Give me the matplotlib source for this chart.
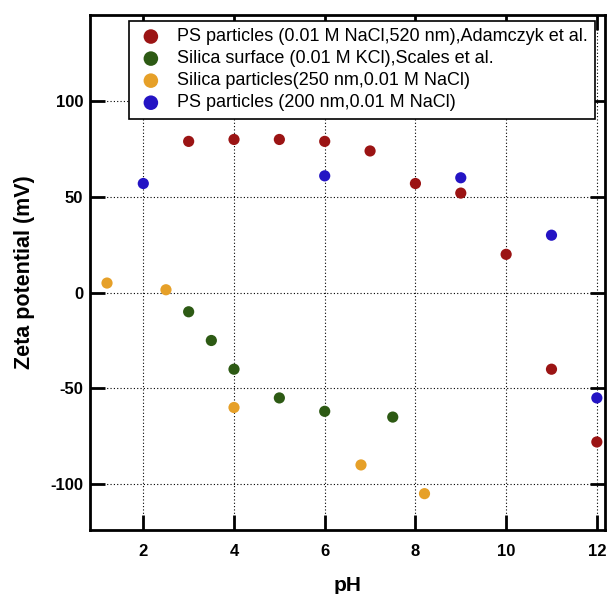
import matplotlib
matplotlib.use("Agg")
import matplotlib.pyplot as plt

plt.rcParams['font.family'] = ['Liberation Sans', 'DejaVu Sans']
plt.rcParams['axes.unicode_minus'] = False

red_x = [3, 4, 5, 6, 7, 8, 9, 10, 11, 12]
red_y = [79, 80, 80, 79, 74, 57, 52, 20, -40, -78]
green_x = [3, 3.5, 4, 5, 6, 7.5]
green_y = [-10, -25, -40, -55, -62, -65]
orange_x = [1.2, 2.5, 4, 6.8, 8.2]
orange_y = [5, 1.5, -60, -90, -105]
blue_x = [2, 6, 9, 11, 12]
blue_y = [57, 61, 60, 30, -55]

labels = ["PS particles (0.01 M NaCl,520 nm),Adamczyk et al.",
          "Silica surface (0.01 M KCl),Scales et al.",
          "Silica particles(250 nm,0.01 M NaCl)",
          "PS particles (200 nm,0.01 M NaCl)"]
colors = ["#9b1414", "#2d5a14", "#e6a028", "#2414c4"]

fig = plt.figure(figsize=(6.11, 5.94), dpi=100)
ax = fig.add_axes([0.1473, 0.1077, 0.8429, 0.867])

for (xs, ys), lab, c in zip([(red_x, red_y), (green_x, green_y), (orange_x, orange_y), (blue_x, blue_y)], labels, colors):
    ax.scatter(xs, ys, s=65, color=c, label=lab, edgecolors='none', zorder=3)

ax.set_xlim(0.825, 12.18)
ax.set_ylim(-124, 145)
ax.set_xticks([2, 4, 6, 8, 10, 12])
ax.set_yticks([-100, -50, 0, 50, 100])
ax.grid(True, color='black', linestyle=(0, (1, 2)), linewidth=0.8)
for s in ax.spines.values():
    s.set_linewidth(2)
ax.tick_params(axis='both', direction='in', length=11, width=2, labelsize=12,
               top=True, right=True)
ax.tick_params(axis='x', pad=10)
ax.tick_params(axis='y', pad=5)
for lab in ax.get_xticklabels() + ax.get_yticklabels():
    lab.set_fontweight('bold')
ax.set_xlabel("pH", fontsize=15, fontweight='bold')
ax.xaxis.set_label_coords(0.5, -0.09)
ax.set_ylabel("Zeta potential (mV)", fontsize=15.5, fontweight='bold', va='center')
ax.yaxis.set_label_coords(-0.128, 0.5)

leg = ax.legend(loc='upper right', fontsize=13, frameon=True, fancybox=False,
                edgecolor='black', framealpha=1, handlelength=1.6, handletextpad=0.65,
                borderaxespad=0, borderpad=0.4, labelspacing=0.28, scatterpoints=1,
                markerscale=1.3, bbox_to_anchor=(0.9806, 0.9883))
leg.get_frame().set_linewidth(1.2)

fig.savefig("out.png", dpi=100)
